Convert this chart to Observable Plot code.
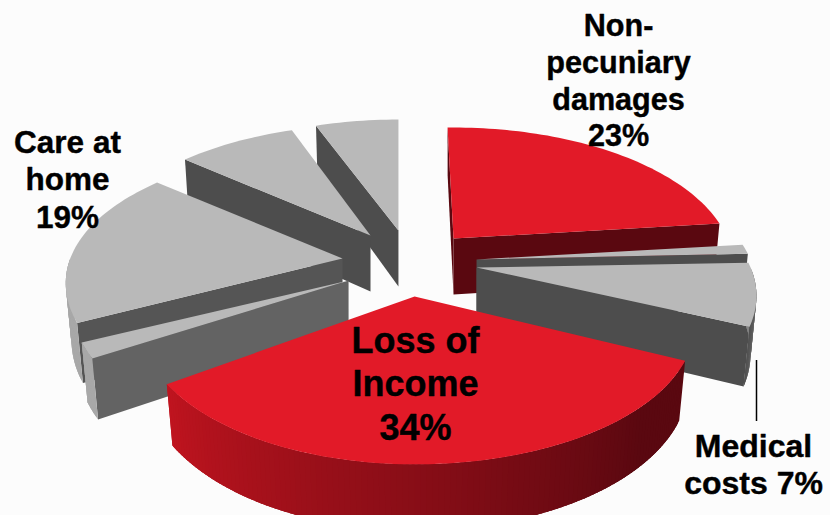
<!DOCTYPE html>
<html>
<head>
<meta charset="utf-8">
<script src="https://cdn.jsdelivr.net/npm/d3@7"></script>
<script src="https://cdn.jsdelivr.net/npm/@observablehq/plot@0.6"></script>
<style>
  html, body { margin: 0; padding: 0; background: #fcfcfc; }
  svg { display: block; }
</style>
</head>
<body>
<div id="chart"></div>
<script>
// Share of each damages component, clockwise from 12 o'clock
const shares = [23, 1, 7, 34, 2, 19, 8, 6];
const categories = [
  "Non-\npecuniary\ndamages", null, "Medical\ncosts", "Loss of\nIncome", null, "Care at\nhome", null, null
];
const highlighted = [true, false, false, true, false, false, false, false];

// Pie geometry: a tilted disc seen in perspective
const W = 830, H = 515;
const centre = [410, 258], rx = 274, ry = 133.6, persp = 0.2045, thickness = 56;
const floorScale = 0.98;
// How far each slice is pulled away from the centre, on the plane of the disc
const pull = [[.157, -.150], [.241, .007], [.241, .067], [.015, .284], [-.226, .165], [-.248, 0], [-.146, -.172], [-.044, -.210]];
// Small angular corrections (degrees) for the foreshortening of each slice's cut edges
const startNudge = [-1.5, 0.7, 1.6, 4.4, 4, 2.3, 0.4, 0.6];
const endNudge = [0.6, 1.1, 2.4, 0, 3.3, 0.4, 1.6, 0];
// Paint order, back to front
const paintOrder = [7, 6, 5, 4, 0, 1, 2, 3];

const RED = "#e21a28", DARKRED = "#5a0810", GREY = "#b9b9b9";
const sideGrey = ["#5a0810", "#4d4d4d", "#4d4d4d", "#5a0810", "#636363", "#555555", "#4d4d4d", "#4d4d4d"];

const rad = (deg) => (deg * Math.PI) / 180;

function project(apex, angle, s, drop) {
  // The near-left quadrant of the disc sits slightly inward
  const bulge = Math.max(0, Math.cos(rad(angle - 240)));
  const r = s * (1 - 0.015 * Math.pow(bulge, 6));
  const u = r * Math.sin(rad(angle)), v = -r * Math.cos(rad(angle));
  const k = 1 / (1 - persp * v);
  return [apex[0] + rx * u * k, apex[1] + ry * v * k + (drop ? thickness * k : 0)];
}

function rimColor(i, angle) {
  if (highlighted[i]) {
    const t = Math.max(0, Math.min(1, (angle - 135) / (234 - 135)));
    return d3.interpolateRgb(DARKRED, "#c0141f")(t);
  }
  if (angle < 135) return d3.interpolateRgb("#8c8c8c", "#505050")((angle - 90) / 24);
  return "#a8a8a8";
}

const total = d3.sum(shares);
let running = 0;
const spans = shares.map((share, i) => {
  const a0 = running;
  running += (share / total) * 360;
  return [a0 + startNudge[i], running + endNudge[i]];
});

const faces = [];
let faceId = 0;
function addFace(points, color) {
  const id = faceId++;
  for (const [x, y] of points) faces.push({ id, x, y, color });
}

for (const i of paintOrder) {
  const [a0, a1] = spans[i];
  const apex = [centre[0] + rx * pull[i][0], centre[1] + ry * pull[i][1]];
  const apexLow = [apex[0], apex[1] + thickness];

  // Cut faces, kept only where they turn toward the viewer
  const wall = (angle) => addFace(
    [project(apex, angle, 1, false), apex, apexLow, project(apex, angle, floorScale, true)],
    sideGrey[i]
  );
  if (-Math.cos(rad(a0 - 90)) > -0.05) wall(a0);
  if (-Math.cos(rad(a1 + 90)) > -0.05) wall(a1);

  // Outer rim: overlapping strips, each painted over the tail of the one before
  const from = Math.max(a0, 90), to = Math.min(a1, 270);
  for (let a = from; a < to; a += 1) {
    const b = Math.min(a + 2.5, to);
    const strip = [];
    for (const t of [a, (a + b) / 2, b]) strip.push(project(apex, t, 1, false));
    for (const t of [b, (a + b) / 2, a]) strip.push(project(apex, t, floorScale, true));
    addFace(strip, rimColor(i, a + 0.5));
  }

  // Top surface
  const top = [apex];
  for (let a = a0; a < a1; a += 1.5) top.push(project(apex, a, 1, false));
  top.push(project(apex, a1, 1, false));
  addFace(top, highlighted[i] ? RED : GREY);
}

// Label placement, one entry per labelled slice
const labelSpots = [
  { slice: 0, x: 618, y: 79, size: 30.6, lead: 1.2 },
  { slice: 2, x: 753, y: 463, size: 32, lead: 1.16 },
  { slice: 3, x: 415, y: 382, size: 36, lead: 1.21 },
  { slice: 5, x: 67, y: 178, size: 31.5, lead: 1.18 }
];
const labelText = (i) => {
  const name = categories[i];
  return i === 2 ? `${name} ${shares[i]}%` : `${name}\n${shares[i]}%`;
};

const chart = Plot.plot({
  width: W,
  height: H,
  margin: 0,
  style: { background: "#fcfcfc" },
  x: { domain: [0, W], range: [0, W], axis: null },
  y: { domain: [0, H], range: [0, H], axis: null },
  color: { type: "identity" },
  marks: [
    Plot.line(faces, { x: "x", y: "y", z: "id", fill: "color", strokeWidth: 0 }),
    // Leader from the medical costs slice to its label
    Plot.ruleX([756], { y1: 360, y2: 421, stroke: "#000", strokeWidth: 1.5 }),
    ...labelSpots.map((spot) => Plot.text([labelText(spot.slice)], {
      x: () => spot.x,
      y: () => spot.y,
      text: (d) => d,
      fontFamily: "Liberation Sans",
      fontWeight: "bold",
      fontSize: spot.size,
      lineHeight: spot.lead,
      textAnchor: "middle",
      fill: "#000",
      stroke: "#000",
      strokeWidth: 0.4
    }))
  ]
});
document.getElementById("chart").appendChild(chart);
</script>
</body>
</html>
